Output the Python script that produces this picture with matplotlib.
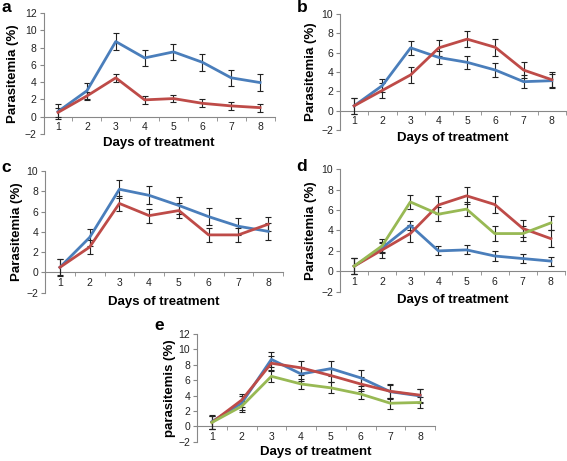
import matplotlib
matplotlib.use("Agg")
import matplotlib.pyplot as plt

plt.rcParams["font.family"] = ["Liberation Sans", "DejaVu Sans"]

days = [1, 2, 3, 4, 5, 6, 7, 8]

# panel a
a_blue = [0.6, 3.0, 8.7, 6.8, 7.5, 6.3, 4.5, 3.95]
a_blue_err = [0.9, 0.9, 1.0, 0.95, 0.95, 1.0, 0.95, 0.95]
a_red = [0.5, 2.4, 4.5, 1.95, 2.1, 1.55, 1.25, 1.05]
a_red_err = [0.5, 0.45, 0.45, 0.45, 0.45, 0.45, 0.45, 0.45]

# panel b
b_blue = [0.5, 2.6, 6.5, 5.5, 5.0, 4.2, 3.0, 3.1]
b_blue_err = [0.8, 0.7, 0.7, 0.7, 0.7, 0.7, 0.7, 0.7]
b_red = [0.5, 2.1, 3.7, 6.5, 7.4, 6.55, 4.2, 3.2]
b_red_err = [0.8, 0.8, 0.85, 0.85, 0.85, 0.85, 0.85, 0.85]

# panel c
c_blue = [0.5, 3.45, 8.2, 7.6, 6.6, 5.5, 4.55, 4.05]
c_blue_err = [0.85, 0.85, 0.9, 0.9, 0.85, 0.85, 0.85, 0.85]
c_red = [0.5, 2.5, 6.8, 5.6, 6.1, 3.7, 3.7, 4.75]
c_red_err = [0.8, 0.7, 0.7, 0.7, 0.7, 0.7, 0.7, 0.7]

# panel d
d_blue = [0.5, 2.3, 4.5, 2.0, 2.1, 1.5, 1.25, 1.0]
d_blue_err = [0.8, 0.45, 0.45, 0.45, 0.45, 0.45, 0.45, 0.45]
d_red = [0.5, 2.1, 3.7, 6.5, 7.4, 6.55, 4.2, 3.2]
d_red_err = [0.8, 0.8, 0.85, 0.85, 0.85, 0.85, 0.85, 0.85]
d_green = [0.5, 2.5, 6.8, 5.6, 6.1, 3.7, 3.7, 4.75]
d_green_err = [0.8, 0.7, 0.7, 0.7, 0.7, 0.7, 0.7, 0.7]

# panel e
e_blue = [0.6, 3.0, 8.7, 6.8, 7.5, 6.3, 4.5, 3.95]
e_blue_err = [0.9, 0.9, 1.0, 0.95, 0.95, 1.0, 0.95, 0.95]
e_red = [0.5, 3.4, 8.2, 7.6, 6.6, 5.5, 4.55, 4.05]
e_red_err = [0.85, 0.85, 0.9, 0.9, 0.85, 0.85, 0.85, 0.85]
e_green = [0.5, 2.6, 6.5, 5.5, 5.0, 4.2, 3.0, 3.1]
e_green_err = [0.8, 0.7, 0.7, 0.7, 0.7, 0.7, 0.7, 0.7]

BLUE = "#4A7EBB"
RED = "#BE4B48"
GREEN = "#98B954"
W, H = 567, 461

fig = plt.figure(figsize=(W / 100, H / 100), dpi=100)


def make_ax(x0, x1, ytop, ybot, ymax, letter, ylabel, series, lx, ly, ylx, xly):
    ax = fig.add_axes([x0 / W, 1 - ybot / H, (x1 - x0) / W, (ybot - ytop) / H])
    for vals, errs, col in series:
        ax.errorbar(days, vals, yerr=errs, color=col, lw=2.0, ecolor="#222222",
                    elinewidth=0.8, capsize=2, capthick=0.8, zorder=3)
    ax.set_xlim(0.5, 8.5)
    ax.set_ylim(-2, ymax)
    ax.set_yticks(range(-2, ymax + 1, 2))
    ax.set_xticks(days)
    ax.set_xticks([d - 0.5 for d in days] + [8.5], minor=True)
    for s in ["top", "right"]:
        ax.spines[s].set_visible(False)
    ax.spines["left"].set_color("#888888")
    ax.spines["bottom"].set_color("#888888")
    ax.spines["bottom"].set_position(("data", 0))
    ax.tick_params(axis="x", which="major", length=0, pad=4, labelsize=7.5, colors="#222222")
    ax.tick_params(axis="x", which="minor", length=3, direction="out", color="#888888")
    ax.tick_params(axis="y", length=3, direction="out", color="#888888", labelsize=7.5,
                   labelcolor="#222222", pad=2)
    # axis titles placed where Excel put them
    fig.text(ylx / W, 1 - (ytop + ybot) / 2 / H, ylabel, fontsize=9.5, fontweight="bold",
             rotation=90, ha="center", va="center")
    fig.text((x0 + x1) / 2 / W, 1 - xly / H, "Days of treatment", fontsize=9.5,
             fontweight="bold", ha="center", va="center")
    fig.text(lx / W, 1 - ly / H, letter, fontsize=12.5, fontweight="bold",
             ha="center", va="center")
    return ax


make_ax(43.6, 274.5, 13, 134, 12, "a", "Parasitemia (%)",
        [(a_blue, a_blue_err, BLUE), (a_red, a_red_err, RED)], 6, 8, 13, 143)
make_ax(340, 566, 14, 130, 10, "b", "Parasitemia (%)",
        [(b_blue, b_blue_err, BLUE), (b_red, b_red_err, RED)], 302, 8, 311, 138)
make_ax(45, 283, 171, 292.7, 10, "c", "Parasitemia (%)",
        [(c_blue, c_blue_err, BLUE), (c_red, c_red_err, RED)], 6, 167, 17, 301.5)
make_ax(340, 565, 169.3, 291.7, 10, "d", "Parasitemia (%)",
        [(d_blue, d_blue_err, BLUE), (d_red, d_red_err, RED), (d_green, d_green_err, GREEN)],
        302, 166, 311, 300.5)
make_ax(197, 435, 334, 441.7, 12, "e", "parasitemis (%)",
        [(e_blue, e_blue_err, BLUE), (e_red, e_red_err, RED), (e_green, e_green_err, GREEN)],
        159, 326, 170, 451.5)

fig.savefig("out.png", dpi=100)
